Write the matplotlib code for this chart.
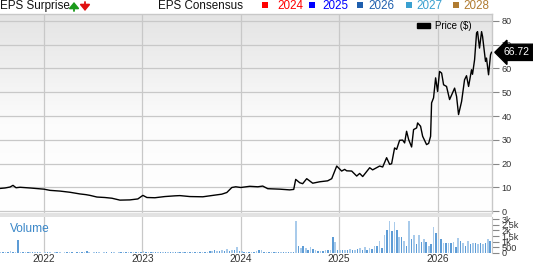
import numpy as np
import matplotlib
matplotlib.use("Agg")
import matplotlib.pyplot as plt
from matplotlib.patches import Rectangle, Patch, FancyArrowPatch
from matplotlib.colors import LinearSegmentedColormap

plt.rcParams["font.family"] = ["Liberation Sans", "DejaVu Sans"]

# ---------------- data ----------------
price_dates = [2021.553, 2021.604, 2021.655, 2021.685, 2021.716, 2021.756, 2021.858, 2022.0,
               2022.061, 2022.162, 2022.264, 2022.365, 2022.426, 2022.467, 2022.538, 2022.619,
               2022.690, 2022.772, 2022.873, 2022.954, 2023.005, 2023.046, 2023.127, 2023.228,
               2023.330, 2023.381, 2023.482, 2023.614, 2023.736, 2023.807, 2023.858, 2023.909,
               2023.949, 2024.0, 2024.091, 2024.173, 2024.223, 2024.274, 2024.396, 2024.497,
               2024.538, 2024.558, 2024.599, 2024.629, 2024.670, 2024.731, 2024.802, 2024.883,
               2024.924, 2024.975, 2025.025, 2025.056, 2025.076, 2025.127, 2025.178, 2025.208,
               2025.239, 2025.310, 2025.340, 2025.411, 2025.442, 2025.482, 2025.513, 2025.533,
               2025.563, 2025.584, 2025.614, 2025.645, 2025.665, 2025.685, 2025.706, 2025.736,
               2025.756, 2025.787, 2025.797, 2025.827, 2025.848, 2025.888, 2025.909, 2025.929,
               2025.939, 2025.959, 2025.980, 2026.0, 2026.020, 2026.041, 2026.061, 2026.091,
               2026.122, 2026.152, 2026.173, 2026.193, 2026.213, 2026.244, 2026.274, 2026.294,
               2026.315, 2026.345, 2026.355, 2026.376, 2026.396, 2026.406, 2026.426, 2026.447,
               2026.457, 2026.487, 2026.497, 2026.518, 2026.538, 2026.548]
price_values = [9.6, 9.8, 10.2, 10.9, 9.9, 10.1, 9.8, 9.3,
                8.8, 8.5, 8.0, 7.3, 7.0, 6.7, 6.0, 5.8,
                5.5, 4.7, 4.8, 5.2, 6.7, 5.8, 5.7, 6.2,
                6.5, 6.6, 6.2, 6.1, 6.8, 7.2, 7.9, 10.0,
                10.3, 10.0, 10.5, 10.3, 10.6, 9.5, 9.3, 9.0,
                9.2, 13.4, 12.0, 11.6, 13.7, 11.8, 12.4, 12.8,
                13.7, 19.0, 16.9, 17.6, 17.0, 16.9, 14.8, 15.9,
                14.6, 18.3, 17.4, 19.0, 18.6, 22.5, 19.7, 20.0,
                26.6, 26.0, 29.8, 29.9, 28.7, 33.6, 30.1, 27.0,
                34.3, 35.0, 37.1, 35.7, 31.5, 28.0, 28.5, 31.5,
                45.5, 47.6, 56.0, 50.3, 58.7, 58.0, 53.1, 52.4,
                46.9, 49.7, 51.7, 48.2, 40.6, 46.1, 55.2, 56.9,
                52.4, 59.4, 57.5, 63.6, 74.8, 75.4, 68.5, 75.4,
                73.4, 62.9, 64.3, 57.3, 65.7, 66.72]

vol_start = 2021.56
vol_step = 0.025
volume_k = [0.08, 0.1, 0.12, 0.1, 0.15, 0.1, 0.08, 1.15, 0.1, 0.06,
            0.05, 0.06, 0.05, 0.07, 0.05, 0.06, 0.05, 0.04, 0.05, 0.06,
            0.05, 0.04, 0.05, 0.06, 0.05, 0.04, 0.05, 0.05, 0.06, 0.05,
            0.04, 0.05, 0.06, 0.05, 0.07, 0.17, 0.05, 0.04, 0.05, 0.06,
            0.05, 0.04, 0.05, 0.05, 0.04, 0.06, 0.05, 0.04, 0.05, 0.06,
            0.05, 0.05, 0.06, 0.08, 0.07, 0.06, 0.08, 0.1, 0.2, 0.1,
            0.07, 0.06, 0.05, 0.06, 0.05, 0.06, 0.07, 0.05, 0.06, 0.05,
            0.06, 0.05, 0.07, 0.06, 0.05, 0.06, 0.07, 0.06, 0.08, 0.07,
            0.06, 0.08, 0.1, 0.12, 0.1, 0.2, 0.15, 0.25, 0.18, 0.2,
            0.3, 0.22, 0.35, 0.2, 0.25, 0.3, 0.55, 0.2, 0.15, 0.1,
            0.12, 0.1, 0.08, 0.12, 0.15, 0.3, 0.3, 0.12, 0.08, 0.1,
            0.08, 0.1, 0.07, 0.06, 0.08, 0.1, 0.08, 0.06, 0.07, 0.1,
            2.85, 0.6, 0.45, 0.65, 0.4, 0.3, 0.55, 0.35, 0.25, 0.2,
            0.18, 0.2, 0.3, 0.25, 0.3, 1.4, 1.0, 0.25, 0.3, 0.25,
            0.3, 0.25, 0.35, 0.3, 0.25, 0.35, 0.4, 0.3, 0.5, 0.3,
            0.45, 0.35, 0.6, 0.6, 1.1, 0.45, 1.6, 2.0, 2.8, 1.9,
            2.7, 2.0, 1.4, 1.4, 1.1, 0.6, 2.8, 1.2, 1.6, 0.8,
            1.6, 1.0, 1.2, 1.0, 0.65, 0.8, 2.3, 1.8, 1.2, 1.2,
            0.9, 0.9, 0.85, 0.9, 0.95, 0.5, 1.3, 1.05, 0.9, 0.65,
            1.1, 0.8, 0.85, 0.85, 0.8, 0.85, 0.8, 0.85, 1.2, 1.1, 2.6]
vol_dates = [vol_start + vol_step * i for i in range(len(volume_k))]

year_ticks = [2022, 2023, 2024, 2025, 2026]
year_labels = ["2022", "2023", "2024", "2025", "2026"]
price_ticks = [0, 10, 20, 30, 40, 50, 60, 70, 80]
vol_ticks = [0, 0.5, 1.0, 1.5, 2.0, 2.5, 3.0]
vol_tick_labels = ["0", "500", "1k", "1.5k", "2k", "2.5k", "3k"]
legend_years = ["2024", "2025", "2026", "2027", "2028"]
legend_colors = ["#ff0000", "#0000ff", "#1f5fae", "#3aa0d0", "#b07b30"]
last_price = 66.72

# ---------------- layout ----------------
W, H = 533, 264
fig = plt.figure(figsize=(W / 100, H / 100), dpi=100)
fig.patch.set_facecolor("white")

xmin, xmax = 2021.553, 2026.553
grid_c = "#c8c8c8"
tick_c = "#333333"

def fx(px):
    return px / W

def fy(py):
    return 1 - py / H

ax = fig.add_axes([0, fy(213), fx(492), fy(14) - fy(213)])
axv = fig.add_axes([0, fy(253), fx(492), fy(217) - fy(253)])

# separator band between panels
fig.patches.append(Rectangle((0, fy(217)), fx(492), fy(213) - fy(217),
                             transform=fig.transFigure, facecolor="#e2e2e2",
                             edgecolor="none", zorder=0))

# gradient background for price panel
grad = np.linspace(0, 1, 200).reshape(-1, 1)
cmap = LinearSegmentedColormap.from_list("bg", [(0, "#e4e4e4"), (0.55, "#fcfcfc"), (1, "#ffffff")])
ax.imshow(grad, aspect="auto", cmap=cmap, extent=[xmin, xmax, -0.7, 82.8],
          origin="upper", zorder=0)

ax.plot(price_dates, price_values, color="black", lw=1.0, zorder=3)
ax.set_xlim(xmin, xmax)
ax.set_ylim(-0.7, 82.8)
ax.set_yticks(price_ticks)
ax.set_xticks(year_ticks)
ax.grid(True, color=grid_c, lw=0.9, zorder=1)
ax.set_axisbelow(True)
ax.yaxis.tick_right()
ax.tick_params(axis="y", direction="out", length=5, width=0.8, color="#888888",
               labelsize=6.6, labelcolor=tick_c, pad=2)
ax.tick_params(axis="x", length=0, labelbottom=False)
for s in ["left", "bottom"]:
    ax.spines[s].set_visible(False)
for s in ["top", "right"]:
    ax.spines[s].set_color(grid_c)
    ax.spines[s].set_linewidth(1.0)

# legend Price ($)
ax.legend(handles=[Patch(facecolor="black", edgecolor="black")], labels=["Price ($)"],
          loc="upper right", bbox_to_anchor=(0.967, 0.985), frameon=False,
          fontsize=7, handlelength=1.4, handleheight=0.5, handletextpad=0.5,
          borderaxespad=0)

# last price tag
ax.annotate(f"{last_price:.2f}", xy=(1.0, last_price), xycoords=("axes fraction", "data"),
            xytext=(8.5, 0), textcoords="offset points", ha="left", va="center",
            fontsize=7.5, color="white", annotation_clip=False,
            bbox=dict(boxstyle="larrow,pad=0.3", fc="black", ec="black"))

# volume
colors = ["#a9cbeb" if i % 2 == 0 else "#5d9cd6" for i in range(len(volume_k))]
axv.bar(vol_dates, volume_k, width=0.016, color=colors, zorder=2, linewidth=0)
axv.set_xlim(xmin, xmax)
axv.set_ylim(0, 3.18)
axv.set_xticks(year_ticks)
axv.set_xticklabels(year_labels)
axv.set_yticks(vol_ticks)
axv.set_yticklabels(vol_tick_labels)
axv.grid(True, axis="x", color=grid_c, lw=0.9, zorder=1)
axv.set_axisbelow(True)
axv.yaxis.tick_right()
axv.tick_params(axis="y", direction="out", length=5, width=0.8, color="#888888",
                labelsize=6.6, labelcolor=tick_c, pad=2)
axv.tick_params(axis="x", length=0, labelsize=7.3, labelcolor=tick_c, pad=1)
for s in ["left", "top", "bottom"]:
    axv.spines[s].set_visible(False)
axv.spines["right"].set_color(grid_c)
axv.text(fx(10) / fx(492), 0.67, "Volume", transform=axv.transAxes, fontsize=8.6,
         color="#3a87c8", ha="left", va="center")

# header
hy = fy(6)
fig.text(fx(0), hy, "EPS Surprise", fontsize=8.4, color="#111111", ha="left", va="center")
arrow_kw = dict(arrowstyle="-|>,head_length=0.6,head_width=0.5", lw=1.3, mutation_scale=6,
                shrinkA=0, shrinkB=0)
fig.add_artist(FancyArrowPatch((fx(74), fy(11)), (fx(74), fy(2)),
                               transform=fig.transFigure, color="#1a9a1a", **arrow_kw))
fig.add_artist(FancyArrowPatch((fx(85), fy(2)), (fx(85), fy(11)),
                               transform=fig.transFigure, color="#e01010", **arrow_kw))
fig.text(fx(158), hy, "EPS Consensus", fontsize=8.4, color="#111111", ha="left", va="center")
sq_x = [262, 309, 357, 406, 453]
txt_x = [277, 322, 368, 416, 463]
for x0, xt, lab, col in zip(sq_x, txt_x, legend_years, legend_colors):
    fig.patches.append(Rectangle((fx(x0), fy(7.5)), fx(5.5), fy(2) - fy(7.5),
                                 transform=fig.transFigure, facecolor=col, edgecolor="none"))
    fig.text(fx(xt), hy, lab, fontsize=8.4, color=col, ha="left", va="center")

fig.savefig("out.png", dpi=100)
